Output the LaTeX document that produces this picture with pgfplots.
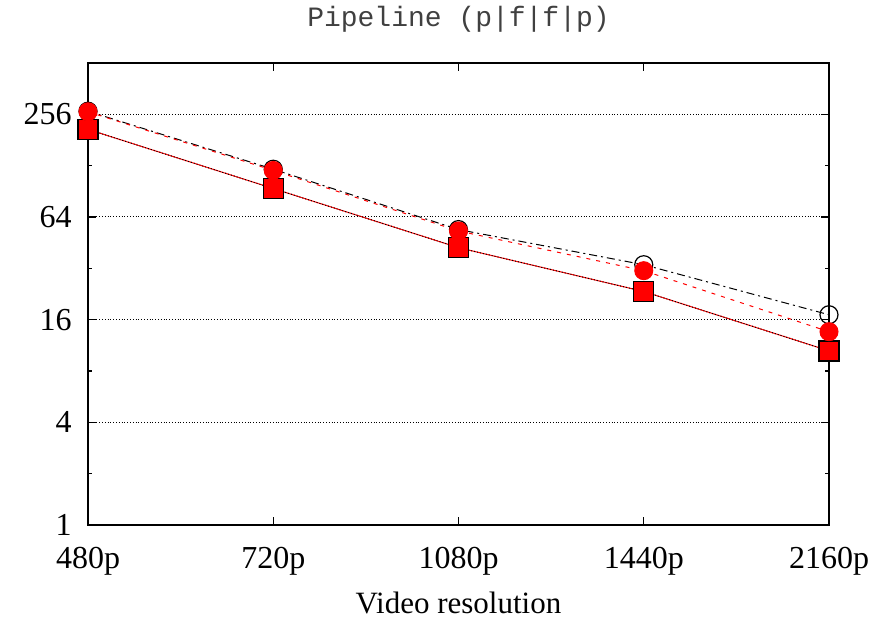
\documentclass[border=0pt]{standalone}
\usepackage{fontspec}
\setmainfont{Liberation Serif}
\newfontfamily\monofont{Liberation Mono}
\usepackage{pgfplots}
\pgfplotsset{compat=1.18}

\begin{document}
\begin{tikzpicture}
\useasboundingbox (-44pt,-48.5pt) rectangle (399.5pt,262.5pt);
\begin{axis}[
  at={(0,0)}, anchor=south west,
  scale only axis, width=370.5pt, height=231pt,
  xmin=0, xmax=4,
  xtick={0,1,2,3,4},
  xticklabels={480p,720p,1080p,1440p,2160p},
  ymode=log, log basis y=2,
  ymin=1, ymax=512,
  ytick={1,4,16,64,256},
  yticklabels={1,4,16,64,256},
  extra y ticks={2,8,32,128},
  extra y tick labels={},
  extra y tick style={major tick length=2pt, ymajorgrids=false},
  tick align=inside,
  major tick length=4pt,
  ymajorgrids, grid style={black, densely dotted, line width=0.5pt},
  axis line style={line width=0.8pt},
  tick style={black, line width=0.6pt},
  tick label style={font=\fontsize{16}{18}\selectfont, inner sep=1pt},
  xticklabel style={yshift=-10pt},
  yticklabel style={xshift=-7pt},
  /pgf/number format/assume math mode=true,
  xlabel={Video resolution},
  xlabel style={font=\fontsize{15.5}{18}\selectfont, at={(0.5,0)}, anchor=center, yshift=-39pt},
  title={\monofont Pipeline (p|f|f|p)},
  title style={font=\fontsize{14}{16}\selectfont, text=black!75, at={(0.5,1)}, anchor=center, yshift=16pt},
  clip=false,
]
% squares: red fill under black outline
\addplot[red, line width=0.5pt, mark=square*, mark size=5pt, mark options={solid, fill=red, draw=red}]
  coordinates {(0,209) (1,94) (2,42.3) (3,23.4) (4,10.5)};
\addplot[black, line width=0.5pt, densely dotted, mark=square, mark size=5pt, mark options={solid, draw=black, line width=0.7pt}]
  coordinates {(0,209) (1,94) (2,42.3) (3,23.4) (4,10.5)};
% circles
\addplot[black, line width=0.5pt, dash pattern=on 4pt off 2pt on 1pt off 2pt, mark=o, mark size=4.5pt, mark options={solid, line width=0.6pt}]
  coordinates {(0,267) (1,122) (2,54) (3,33.6) (4,17.1)};
\addplot[red, line width=0.5pt, dash pattern=on 2pt off 3pt, mark=*, mark size=4.5pt, mark options={solid, fill=red, draw=red}]
  coordinates {(0,265) (1,120) (2,53) (3,31) (4,13.6)};
\end{axis}
\end{tikzpicture}
\end{document}
